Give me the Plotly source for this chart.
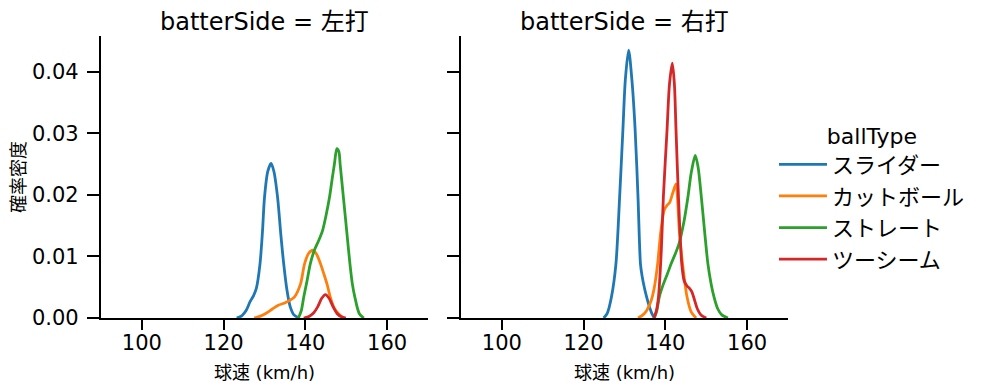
import plotly.graph_objects as go

# ---- data (speed km/h, density) ----
ball_types = ["スライダー", "カットボール", "ストレート", "ツーシーム"]
colors = ["#1f77b4", "#ff7f0e", "#2ca02c", "#d62728"]
x_ticks = [100, 120, 140, 160]
y_ticks = [0.00, 0.01, 0.02, 0.03, 0.04]

# 左打
left_slider_x = [123.2, 124.5, 125.5, 126.5, 127.3, 128.0, 128.9, 129.5, 130.0, 130.8, 131.6, 132.3, 133.2, 134.0, 134.7, 135.5, 136.3, 137.2, 138.5]
left_slider_y = [0, 0.0004, 0.0012, 0.0027, 0.0036, 0.0048, 0.0088, 0.014, 0.0196, 0.0238, 0.0251, 0.0238, 0.0196, 0.0135, 0.0088, 0.0045, 0.0018, 0.0005, 0]
left_cutter_x = [127.5, 129.0, 130.5, 132.0, 133.5, 134.8, 136.0, 137.3, 138.8, 139.8, 140.8, 141.8, 142.7, 143.7, 144.5, 145.3, 146.1, 147.0, 148.1, 149.3]
left_cutter_y = [0, 0.0003, 0.0008, 0.0015, 0.0021, 0.0024, 0.0028, 0.0034, 0.0055, 0.0088, 0.0105, 0.011, 0.0104, 0.0088, 0.0072, 0.0055, 0.0034, 0.0017, 0.0007, 0]
left_straight_x = [138.3, 139.0, 139.6, 140.4, 141.2, 142.2, 143.2, 144.2, 145.1, 145.9, 146.6, 147.1, 147.7, 148.2, 148.5, 149.3, 150.1, 150.9, 151.5, 152.1, 153.2, 154.3]
left_straight_y = [0, 0.0012, 0.0034, 0.006, 0.0088, 0.011, 0.0125, 0.0142, 0.0168, 0.0196, 0.0228, 0.025, 0.0275, 0.027, 0.025, 0.0196, 0.0142, 0.0088, 0.0055, 0.0034, 0.0007, 0]
left_twoseam_x = [139.6, 141.0, 142.0, 143.0, 144.0, 144.9, 145.8, 146.8, 147.8, 148.8, 149.9]
left_twoseam_y = [0, 0.0003, 0.0008, 0.0018, 0.0032, 0.0038, 0.0032, 0.0018, 0.0007, 0.0002, 0]

# 右打
right_slider_x = [124.9, 125.8, 126.8, 127.9, 128.8, 129.6, 130.2, 131.0, 131.8, 132.6, 133.3, 133.9, 134.3, 134.9, 135.5, 136.1, 136.7, 137.3]
right_slider_y = [0, 0.0008, 0.0034, 0.0088, 0.0196, 0.0305, 0.0387, 0.0435, 0.0387, 0.0305, 0.0196, 0.0088, 0.0068, 0.0048, 0.0032, 0.0018, 0.0007, 0]
right_cutter_x = [133.3, 134.5, 135.5, 136.5, 137.3, 138.1, 138.9, 139.7, 140.4, 141.0, 141.8, 142.6, 143.0, 143.4, 144.2, 145.3, 146.3, 147.5]
right_cutter_y = [0, 0.0005, 0.0013, 0.0028, 0.005, 0.0088, 0.0142, 0.0175, 0.0183, 0.0187, 0.0203, 0.0218, 0.019, 0.0142, 0.0088, 0.0034, 0.001, 0]
right_straight_x = [137.3, 137.9, 138.5, 139.5, 140.5, 141.4, 142.4, 143.3, 144.5, 145.5, 146.3, 147.3, 148.0, 148.8, 149.6, 150.4, 151.2, 151.9, 152.8, 153.8, 155.3]
right_straight_y = [0, 0.0012, 0.0034, 0.0055, 0.0072, 0.0088, 0.0104, 0.012, 0.0155, 0.0196, 0.0235, 0.0264, 0.0245, 0.0196, 0.014, 0.0088, 0.0055, 0.0034, 0.0015, 0.0005, 0]
right_twoseam_x = [137.2, 137.8, 138.3, 139.0, 139.5, 140.4, 141.0, 141.7, 142.2, 142.6, 143.2, 144.0, 144.6, 145.3, 145.9, 146.5, 147.0, 147.8, 148.7, 150.0]
right_twoseam_y = [0, 0.0012, 0.0034, 0.011, 0.0196, 0.0305, 0.038, 0.0414, 0.038, 0.0305, 0.0196, 0.0088, 0.006, 0.0052, 0.0048, 0.0042, 0.0032, 0.0015, 0.0005, 0]

left_series = [(left_slider_x, left_slider_y), (left_cutter_x, left_cutter_y),
               (left_straight_x, left_straight_y), (left_twoseam_x, left_twoseam_y)]
right_series = [(right_slider_x, right_slider_y), (right_cutter_x, right_cutter_y),
                (right_straight_x, right_straight_y), (right_twoseam_x, right_twoseam_y)]

FONT = "DejaVu Sans, Noto Sans CJK JP"
fig = go.Figure()
for i, name in enumerate(ball_types):
    xs, ys = left_series[i]
    fig.add_trace(go.Scatter(x=xs, y=ys, mode="lines", name=name,
                             line=dict(color=colors[i], width=2.8, shape="spline", smoothing=0.8),
                             xaxis="x", yaxis="y", showlegend=True))
for i, name in enumerate(ball_types):
    xs, ys = right_series[i]
    fig.add_trace(go.Scatter(x=xs, y=ys, mode="lines", name=name,
                             line=dict(color=colors[i], width=2.8, shape="spline", smoothing=0.8),
                             xaxis="x2", yaxis="y2", showlegend=False))

ydom = [0.1867, 0.9079]
axis_common = dict(showgrid=False, zeroline=False, showline=True, linecolor="black", linewidth=2.2,
                   ticks="outside", tickwidth=2, tickcolor="black", automargin=False,
                   tickfont=dict(family=FONT, size=21, color="black"))
xaxis_common = dict(ticklen=10, ticklabelstandoff=-5, **axis_common)
yaxis_common = dict(ticklen=12, ticklabelstandoff=4, **axis_common)
fig.update_layout(
    width=997, height=391,
    margin=dict(l=0, r=0, t=0, b=0),
    paper_bgcolor="white", plot_bgcolor="white",
    font=dict(family=FONT, color="black"),
    xaxis=dict(domain=[0.1013, 0.4293], range=[90, 170], tickvals=x_ticks, anchor="y",
               title=dict(text="球速 (km/h)", font=dict(size=18), standoff=12), **xaxis_common),
    yaxis=dict(domain=ydom, range=[0, 0.0458], tickvals=y_ticks, tickformat=".2f", anchor="x",
               title=dict(text="確率密度", font=dict(size=18), standoff=2), **yaxis_common),
    xaxis2=dict(domain=[0.4624, 0.7904], range=[90, 170], tickvals=x_ticks, anchor="y2",
                title=dict(text="球速 (km/h)", font=dict(size=18), standoff=12), **xaxis_common),
    yaxis2=dict(domain=ydom, range=[0, 0.0458], tickvals=y_ticks, showticklabels=False, anchor="x2",
                **yaxis_common),
    legend=dict(x=0.7763, y=0.706, xanchor="left", yanchor="top",
                title=dict(text="ballType", font=dict(size=22), side="top center"),
                font=dict(family=FONT, size=22), bgcolor="rgba(0,0,0,0)",
                itemwidth=48, tracegroupgap=5),
    annotations=[
        dict(text="batterSide = 左打", x=0.2653, y=1.0, xref="paper", yref="paper",
             xanchor="center", yanchor="top", yshift=-6, showarrow=False, font=dict(size=24)),
        dict(text="batterSide = 右打", x=0.6264, y=1.0, xref="paper", yref="paper",
             xanchor="center", yanchor="top", yshift=-6, showarrow=False, font=dict(size=24)),
    ],
)
fig.write_html("out.html", config={"displayModeBar": False},
               post_script="document.body.style.margin='0px';")
